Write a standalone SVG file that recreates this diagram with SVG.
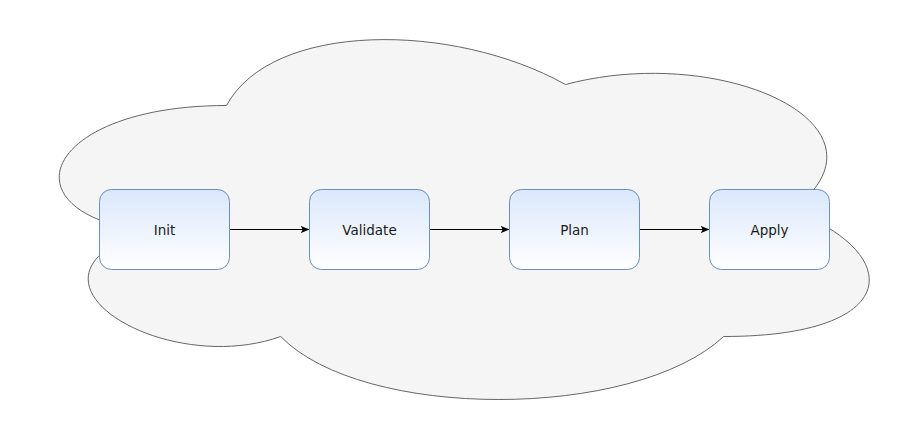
<svg xmlns="http://www.w3.org/2000/svg" width="905" height="421" viewBox="0 0 905 421">
<style>
.node rect{stroke:#6c8ebf;stroke-width:1;fill:url(#g)}
.node text{font-family:"DejaVu Sans",sans-serif;font-size:13.5px;fill:#1a1a1a;text-anchor:middle}
.edge{stroke:#000;stroke-width:1;fill:none;marker-end:url(#arr)}
</style>
<defs>
<linearGradient id="g" x1="0" y1="0" x2="0" y2="1">
<stop offset="0" stop-color="#dae8fc"/>
<stop offset="1" stop-color="#ffffff"/>
</linearGradient>
<marker id="arr" viewBox="0 0 10 10" refX="10" refY="5" markerWidth="9" markerHeight="9" markerUnits="userSpaceOnUse" orient="auto">
<path d="M0,0.8 L10,5 L0,9.2 L2.5,5 Z" fill="#000"/>
</marker>
</defs>
<g id="cloud">
<path d="M226.5,105.5 C45.7,105.5 0.5,210.5 145.1,231.5 C0.5,277.7 163.2,378.5 280.7,336.5 C362.1,420.5 633.3,420.5 723.7,336.5 C904.5,336.5 904.5,252.5 791.5,210.5 C904.5,126.5 723.7,42.5 565.5,84.5 C452.5,21.5 271.7,21.5 226.5,105.5 Z" fill="#f5f5f5" stroke="#666666" stroke-width="1"/>
</g>
<g id="connectors">
<path class="edge" d="M229.5,229.5 L309.5,229.5"/>
<path class="edge" d="M429.5,229.5 L509.5,229.5"/>
<path class="edge" d="M639.5,229.5 L709.5,229.5"/>
</g>
<g id="init" class="node">
<rect x="99.5" y="189.5" width="130" height="80" rx="12" ry="12"/>
<text x="164.5" y="234.5">Init</text>
</g>
<g id="validate" class="node">
<rect x="309.5" y="189.5" width="120" height="80" rx="12" ry="12"/>
<text x="369.5" y="234.5">Validate</text>
</g>
<g id="plan" class="node">
<rect x="509.5" y="189.5" width="130" height="80" rx="12" ry="12"/>
<text x="574.5" y="234.5">Plan</text>
</g>
<g id="apply" class="node">
<rect x="709.5" y="189.5" width="120" height="80" rx="12" ry="12"/>
<text x="769.5" y="234.5">Apply</text>
</g>
</svg>
